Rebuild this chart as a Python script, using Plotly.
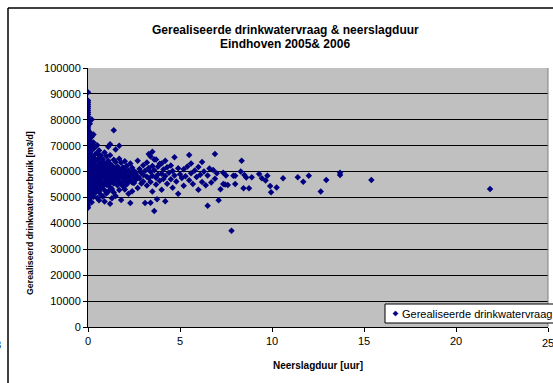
import plotly.graph_objects as go

# ---- data (neerslagduur [uur], drinkwaterverbruik [m3/d]) ----
dry_x = [0.0] * 54
dry_y = [90600, 87500, 86800, 86000, 85200, 84500, 83600, 82800, 82000, 81200,
         80400, 79600, 78800, 78000, 77200, 76400, 75600, 74800, 74000, 73200,
         72400, 71600, 70800, 70000, 69200, 68400, 67600, 66800, 66000, 65200,
         64400, 63600, 62800, 62000, 61200, 60400, 59600, 58800, 58000, 57200,
         56400, 55600, 54800, 54000, 53200, 52400, 51600, 50800, 50000, 49200,
         48400, 47600, 46800, 46000]

light_x = [0.1]*13 + [0.2]*13 + [0.3]*11 + [0.4]*9 + [0.5]*9 + [0.6]*9 + [0.7]*8 + [0.8]*7 + \
          [0.9]*8 + [1.0]*7 + [1.1]*7 + [1.2]*8 + [1.3]*6 + [1.4]*7 + [1.5]*6 + [1.6]*4 + \
          [1.7]*6 + [1.8]*5 + [1.9]*4 + [2.0]*5 + [2.1]*4 + [2.2]*4 + [2.3]*4 + [2.4]*4 + [2.5]*3
light_y = [78500, 75200, 72100, 69800, 67300, 64900, 62600, 60100, 58300, 56700, 54200, 52000, 49500,
           80100, 73500, 70400, 68200, 66100, 63800, 61500, 59700, 57900, 55800, 53400, 51100, 48200,
           74300, 71200, 68900, 65400, 63000, 61200, 59000, 57100, 55000, 52700, 50300,
           69500, 66800, 64100, 62300, 60600, 58400, 56300, 54100, 51800,
           70200, 67000, 64500, 61800, 59900, 57600, 55200, 53000, 49800,
           68100, 65300, 62900, 60700, 58800, 56900, 54600, 52200, 48900,
           66200, 63500, 61000, 59300, 57400, 55700, 53600, 51000,
           64800, 62100, 60200, 58100, 56100, 54400, 50400,
           67400, 63200, 61400, 59500, 57800, 55900, 52800, 48500,
           65900, 62700, 60500, 58600, 56500, 54900, 51500,
           69600, 64200, 61700, 59200, 57300, 55100, 52300,
           70600, 66300, 63000, 60900, 58900, 56800, 54000, 47600,
           62400, 60000, 58200, 56000, 53300, 49700,
           76000, 64600, 61300, 59100, 57000, 55400, 51900,
           68500, 63700, 60800, 58500, 56600, 50600,
           62000, 59800, 57500, 54700,
           70000, 65000, 61100, 58700, 56200, 52900,
           63400, 60300, 58000, 55500, 49000,
           61600, 59400, 57200, 54300,
           64000, 60900, 58600, 56400, 53100,
           62200, 59900, 57700, 55000,
           60400, 58300, 56100, 51400,
           63100, 59000, 57000, 47900,
           61500, 58800, 55800, 52400,
           60200, 57900, 55600]

mid_x = [2.6, 2.6, 2.7, 2.7, 2.7, 2.8, 2.8, 2.9, 2.9, 3.0, 3.0, 3.0, 3.1, 3.1, 3.2, 3.2, 3.2,
         3.3, 3.3, 3.3, 3.4, 3.4, 3.4, 3.4, 3.5, 3.5, 3.5, 3.5, 3.6, 3.6, 3.6, 3.7, 3.7, 3.7,
         3.75, 3.8, 3.8, 3.9, 3.9, 4.0, 4.0, 4.0, 4.1, 4.1, 4.2, 4.2, 4.2, 4.3, 4.3, 4.4, 4.5,
         4.5, 4.6, 4.6, 4.7, 4.7, 4.8, 4.9, 4.9, 5.0, 5.1, 5.2, 5.2, 5.3, 5.4, 5.5, 5.5, 5.6,
         5.6, 5.7, 5.8, 5.9, 6.0, 6.0]
mid_y = [59600, 56900, 64200, 58100, 53700, 61000, 57300, 59500, 55400, 62500, 58700, 56200,
         60300, 47900, 63500, 58000, 54600, 66800, 61400, 57500, 65800, 59900, 56000, 48000,
         67700, 62200, 58400, 52300, 64700, 60500, 44800, 64700, 57600, 55000, 49300, 61900,
         58900, 63000, 56500, 63100, 59200, 53000, 60800, 57100, 64200, 58300, 48600, 61700,
         55300, 59600, 62400, 57000, 60200, 53800, 65500, 58500, 56200, 61300, 51400, 59000,
         57500, 60900, 54500, 58200, 62000, 66400, 56700, 63100, 59400, 55200, 60400, 57900,
         61800, 53000]

heavy_x = [6.1, 6.2, 6.2, 6.3, 6.4, 6.5, 6.5, 6.6, 6.7, 6.8, 6.9, 6.9, 7.0, 7.1, 7.2, 7.35,
           7.35, 7.45, 7.5, 7.6, 7.8, 7.9, 8.0, 8.0, 8.3, 8.35, 8.45, 8.5, 8.6, 8.75, 8.9, 9.3,
           9.45, 9.65, 9.75, 9.9, 9.95, 10.25, 10.6, 11.4, 11.7, 12.0, 12.65, 12.95, 13.7, 13.7,
           15.4, 21.85]
heavy_y = [58800, 63700, 56000, 60000, 54700, 46800, 58500, 61200, 55800, 60600, 66800, 57200,
           59400, 48900, 53200, 59600, 55200, 55000, 58500, 54800, 37200, 58400, 58400, 55200,
           60000, 64200, 53600, 58700, 57700, 53600, 57800, 59100, 57400, 56600, 58400, 54400,
           52000, 53900, 57400, 57800, 56100, 58400, 52300, 56800, 59600, 58700, 56800, 53300]

x_ticks = [0, 5, 10, 15, 20, 25]
y_ticks = [0, 10000, 20000, 30000, 40000, 50000, 60000, 70000, 80000, 90000, 100000]

series_name = "Gerealiseerde drinkwatervraag"
title_lines = ["Gerealiseerde drinkwatervraag & neerslagduur", "Eindhoven 2005& 2006"]
x_title = "Neerslagduur [uur]"
y_title = "Gerealiseerd drinkwaterverbruik [m3/d]"

xs = dry_x + light_x + mid_x + heavy_x
ys = dry_y + light_y + mid_y + heavy_y

# ---- figure ----
W, H = 553, 383
L, R, T, B = 88, 5, 68, 56
pw, ph = W - L - R, H - T - B


def px(xp):
    return (xp - L) / pw


def py(yp):
    return (H - B - yp) / ph


FONT = "Arial, Liberation Sans, sans-serif"
NAVY = "#000080"

fig = go.Figure()
fig.add_trace(go.Scatter(
    x=xs, y=ys, mode="markers", name=series_name,
    marker=dict(symbol="diamond", size=5, color=NAVY, line=dict(width=0)),
    showlegend=False,
))

axis_common = dict(
    showline=True, linecolor="black", linewidth=1,
    ticks="outside", ticklen=4, tickcolor="black",
    tickfont=dict(family=FONT, size=11, color="black"),
    zeroline=False,
)

fig.update_layout(
    width=W, height=H,
    margin=dict(l=L, r=R, t=T, b=B, autoexpand=False),
    paper_bgcolor="white", plot_bgcolor="#C0C0C0",
    font=dict(family=FONT, color="black"),
    xaxis=dict(range=[0, 25], tickvals=x_ticks, ticktext=[str(v) for v in x_ticks],
               showgrid=False, **axis_common),
    yaxis=dict(range=[0, 100000], tickvals=y_ticks, ticktext=[str(v) for v in y_ticks],
               showgrid=True, gridcolor="black", gridwidth=1, **axis_common),
    showlegend=False,
)

# legend drawn by hand (box runs past the right edge as in the reference)
lx0, ly0, ly1 = 385, 304, 323
mx, my, mr = 395.5, 313.5, 2.6
shapes = [
    dict(type="line", xref="paper", yref="paper", x0=px(8), x1=px(W + 5), y0=py(8), y1=py(8),
         line=dict(color="black", width=1.5)),
    dict(type="line", xref="paper", yref="paper", x0=px(8), x1=px(8), y0=py(8), y1=py(H + 5),
         line=dict(color="black", width=1.5)),
    dict(type="line", xref="paper", yref="paper", x0=1, x1=1, y0=0, y1=1,
         line=dict(color="#808080", width=1)),
    dict(type="rect", xref="paper", yref="paper", x0=px(lx0), x1=px(W + 10), y0=py(ly1), y1=py(ly0),
         fillcolor="white", line=dict(color="black", width=1), layer="above"),
    dict(type="path", xref="paper", yref="paper", layer="above",
         path=f"M {px(mx)},{py(my - mr)} L {px(mx + mr)},{py(my)} L {px(mx)},{py(my + mr)} "
              f"L {px(mx - mr)},{py(my)} Z",
         fillcolor=NAVY, line=dict(color=NAVY, width=0.5)),
]
fig.update_layout(shapes=shapes)

annotations = [
    dict(text="<b>" + title_lines[0] + "</b>", xref="paper", yref="paper",
         x=px(285), y=py(30), xanchor="center", yanchor="middle", showarrow=False,
         font=dict(family=FONT, size=12, color="black")),
    dict(text="<b>" + title_lines[1] + "</b>", xref="paper", yref="paper",
         x=px(285), y=py(44), xanchor="center", yanchor="middle", showarrow=False,
         font=dict(family=FONT, size=12, color="black")),
    dict(text="<b>" + x_title + "</b>", xref="paper", yref="paper",
         x=px(318), y=py(365), xanchor="center", yanchor="middle", showarrow=False,
         font=dict(family=FONT, size=10, color="black")),
    dict(text="<b>" + y_title + "</b>", xref="paper", yref="paper", textangle=-90,
         x=px(30), y=py(213), xanchor="center", yanchor="middle", showarrow=False,
         font=dict(family=FONT, size=8.8, color="black")),
    dict(text=str(x_ticks[-1]), xref="paper", yref="paper", x=1, y=py(343),
         xanchor="center", yanchor="middle", showarrow=False,
         font=dict(family=FONT, size=11, color="black")),
    dict(text=series_name, xref="paper", yref="paper", x=px(400), y=py(313.5),
         xanchor="left", yanchor="middle", showarrow=False,
         font=dict(family=FONT, size=11, color="black")),
    dict(text="8", xref="paper", yref="paper", x=px(3), y=py(345), xanchor="right",
         yanchor="middle", showarrow=False, font=dict(family=FONT, size=11, color="black")),
]
fig.update_layout(annotations=annotations)

fig.write_html("out.html")
